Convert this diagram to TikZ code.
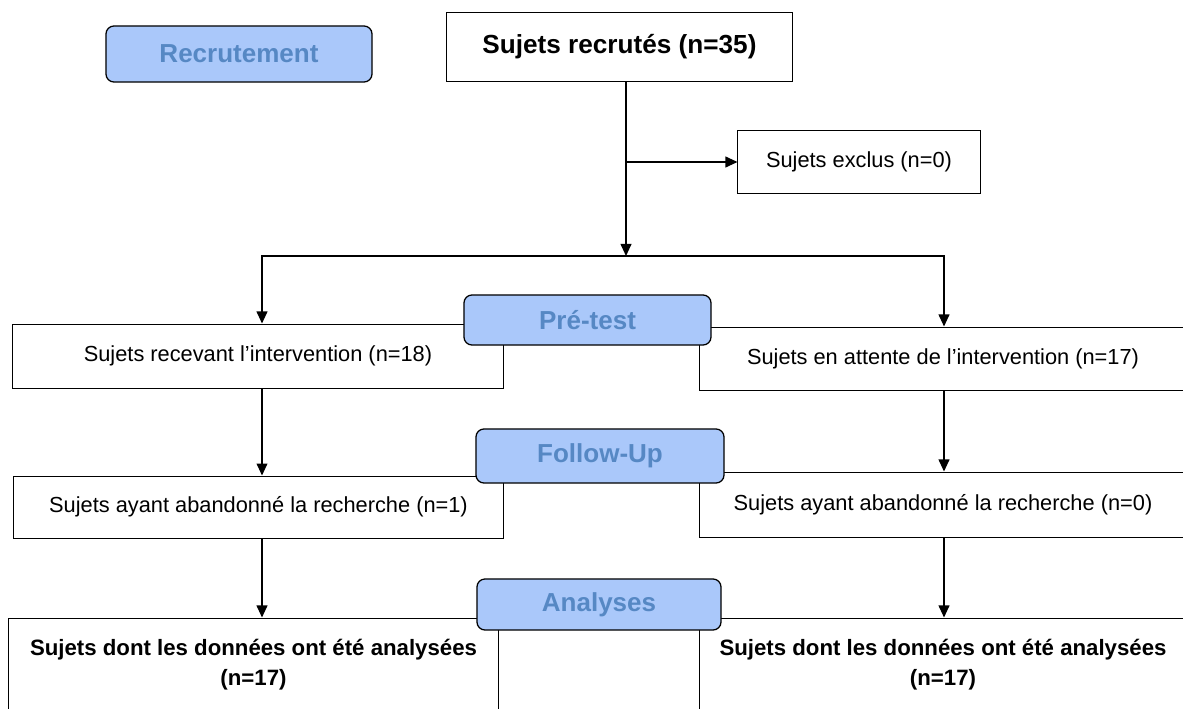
\documentclass[tikz,border=0pt]{standalone}
\usepackage{fontspec}
\setmainfont{Liberation Sans}
\usetikzlibrary{positioning, arrows.meta}
\definecolor{phasefill}{RGB}{170,200,250}
\definecolor{phasetext}{RGB}{86,136,196}

\begin{document}
\begin{tikzpicture}[
    x=0.025cm, y=-0.025cm,
    box/.style={rectangle, draw, fill=white, line width=0.7pt, inner sep=0pt, align=center, font=\fontsize{15.5}{19}\selectfont},
    boldbox/.style={box, font=\fontsize{15.8}{21.3}\selectfont\bfseries},
    phase/.style={rectangle, rounded corners=0.2cm, draw, line width=0.9pt, fill=phasefill, text=phasetext, inner sep=0pt, font=\fontsize{18.5}{22}\selectfont\bfseries},
    arrow/.style={-{Triangle[length=0.3cm, width=0.27cm]}, line width=1pt}
]
    \useasboundingbox (0,0) rectangle (1183,709);
    \clip (0,0) rectangle (1183,709);

    % Boxes
    \node[box, minimum width=8.625cm, minimum height=1.7cm, font=\fontsize{18.6}{22}\selectfont\bfseries] (recrutes) at (619.5,47) {Sujets recrutés (n=35)};
    \node[box, minimum width=6.05cm, minimum height=1.55cm] (exclus) at (859,162) {Sujets exclus (n=0)};
    \node[box, minimum width=12.25cm, minimum height=1.6cm] (recevant) at (258,356) {Sujets recevant l’intervention (n=18)};
    \node[box, minimum width=12.15cm, minimum height=1.575cm] (attente) at (943,358.5) {Sujets en attente de l’intervention (n=17)};
    \node[box, minimum width=12.225cm, minimum height=1.55cm] (abandon1) at (258.5,507) {Sujets ayant abandonné la recherche (n=1)};
    \node[box, minimum width=12.15cm, minimum height=1.625cm] (abandon0) at (943,504.5) {Sujets ayant abandonné la recherche (n=0)};
    \node[boldbox, minimum width=12.225cm, minimum height=2.35cm] (analyseG) at (253.5,665) {Sujets dont les données ont été analysées\\(n=17)};
    \node[boldbox, minimum width=12.15cm, minimum height=2.35cm] (analyseD) at (943,665) {Sujets dont les données ont été analysées\\(n=17)};

    % Phases
    \node[phase, minimum width=6.65cm, minimum height=1.4cm] (recrutement) at (239,54) {Recrutement};
    \node[phase, minimum width=6.175cm, minimum height=1.25cm] (pretest) at (587.5,320) {Pré-test};
    \node[phase, minimum width=6.2cm, minimum height=1.35cm] (followup) at (600,456) {Follow-Up};
    \node[phase, minimum width=6.1cm, minimum height=1.275cm] (analyses) at (599,604.5) {Analyses};

    % Connectors
    \coordinate (split) at (626,256);
    \coordinate (leftcol) at (262,256);
    \coordinate (rightcol) at (944,256);
    \draw[arrow] (recrutes.south -| split) -- (split);
    \draw[arrow] (split |- exclus.west) -- (exclus.west);
    \draw[arrow] (split) -| (leftcol |- recevant.north);
    \draw[arrow] (split) -| (rightcol |- attente.north);
    \draw[arrow] (leftcol |- recevant.south) -- (leftcol |- abandon1.north);
    \draw[arrow] (rightcol |- attente.south) -- (rightcol |- abandon0.north);
    \draw[arrow] (leftcol |- abandon1.south) -- (leftcol |- analyseG.north);
    \draw[arrow] (rightcol |- abandon0.south) -- (rightcol |- analyseD.north);
\end{tikzpicture}
\end{document}
